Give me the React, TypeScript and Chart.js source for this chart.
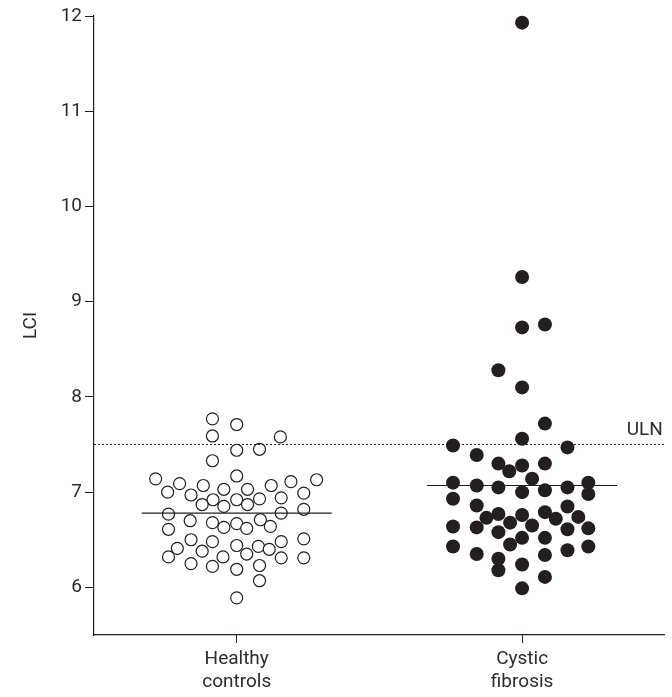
import React, { useEffect, useRef } from "react";
import { Chart, registerables } from "chart.js";
Chart.register(...registerables);

const categories = [["Healthy", "controls"], ["Cystic", "fibrosis"]];
const yTicks = [6, 7, 8, 9, 10, 11, 12];

const healthyLCI = [
  7.77, 7.71, 7.59, 7.58, 7.44, 7.45, 7.33, 7.14, 7.09, 7.07, 7.17, 7.11, 7.13, 7.0, 6.97, 7.03, 7.03, 7.07, 6.99,
  6.92, 6.92, 6.93, 6.94, 6.87, 6.85, 6.87, 6.82, 6.77, 6.78, 6.7, 6.68, 6.67, 6.63, 6.62, 6.71, 6.64, 6.61, 6.5,
  6.48, 6.44, 6.43, 6.48, 6.51, 6.41, 6.38, 6.35, 6.4, 6.32, 6.32, 6.31, 6.31, 6.25, 6.22, 6.19, 6.23, 6.07, 5.89,
];
const healthyJitter = [
  -0.085, 0, -0.085, 0.153, 0, 0.08, -0.085, -0.284, -0.2, -0.117, 0, 0.19, 0.28, -0.242, -0.16, -0.045, 0.038, 0.121,
  0.235, -0.083, 0, 0.08, 0.156, -0.121, -0.045, 0.038, 0.235, -0.239, 0.156, -0.163, -0.085, 0, -0.045, 0.035, 0.083,
  0.118, -0.239, -0.16, -0.085, 0, 0.076, 0.156, 0.235, -0.208, -0.121, 0.035, 0.114, -0.239, -0.048, 0.156, 0.235,
  -0.16, -0.085, 0, 0.08, 0.08, 0,
];

const cfLCI = [
  11.93, 9.26, 8.73, 8.76, 8.28, 8.1, 7.72, 7.56, 7.49, 7.47, 7.39, 7.3, 7.22, 7.28, 7.3, 7.14, 7.1, 7.07, 7.05, 7.0,
  7.02, 7.05, 7.1, 6.98, 6.93, 6.86, 6.85, 6.77, 6.73, 6.76, 6.79, 6.68, 6.72, 6.74, 6.64, 6.63, 6.58, 6.65, 6.61, 6.62,
  6.52, 6.52, 6.45, 6.43, 6.39, 6.43, 6.35, 6.34, 6.3, 6.18, 6.24, 6.11, 5.99,
];
const cfJitter = [
  0, 0, 0, 0.08, -0.083, 0, 0.08, 0, -0.242, 0.159, -0.159, -0.083, -0.045, 0, 0.08, 0.035, -0.242, -0.159, -0.083, 0,
  0.08, 0.159, 0.232, 0.232, -0.242, -0.159, 0.159, -0.083, -0.125, 0, 0.08, -0.042, 0.118, 0.197, -0.242, -0.159,
  -0.083, 0.035, 0.159, 0.232, 0, 0.08, -0.042, -0.242, 0.159, 0.232, -0.159, 0.08, -0.083, -0.083, 0, 0.08, 0,
];

const medians = [6.78, 7.07];
const medianHalfWidth = 0.333;
const ULN = 7.5;
const ulnLabel = "ULN";

const INK = "#231f20";
const TEXT = "#2e2b2c";
const FONT = "Roboto, 'Liberation Sans', sans-serif";

export default function App() {
  const ref = useRef<HTMLCanvasElement>(null);
  useEffect(() => {
    const ctx = ref.current!;
    const ulnPlugin = {
      id: "ulnLabel",
      afterDatasetsDraw(chart: any) {
        const c = chart.ctx;
        const y = chart.scales.y.getPixelForValue(ULN);
        c.save();
        c.fillStyle = TEXT;
        c.font = `19px ${FONT}`;
        c.textAlign = "right";
        c.textBaseline = "alphabetic";
        c.fillText(ulnLabel, chart.chartArea.right - 2, y - 10);
        c.restore();
      },
    };
    const chart = new Chart(ctx, {
      type: "scatter",
      data: {
        datasets: [
          {
            label: "ULN",
            data: [{ x: -0.5, y: ULN }, { x: 1.5, y: ULN }],
            showLine: true,
            borderColor: INK,
            borderWidth: 1,
            borderDash: [2, 2],
            pointRadius: 0,
          } as any,
          ...medians.map((m, i) => ({
            label: "median" + i,
            data: [{ x: i - medianHalfWidth, y: m }, { x: i + medianHalfWidth, y: m }],
            showLine: true,
            borderColor: INK,
            borderWidth: 1.2,
            pointRadius: 0,
          })),
          {
            label: "Healthy controls",
            data: healthyLCI.map((v, i) => ({ x: 0 + healthyJitter[i], y: v })),
            pointRadius: 6,
            pointBackgroundColor: "#ffffff",
            pointBorderColor: INK,
            pointBorderWidth: 1.2,
            clip: false,
          } as any,
          {
            label: "Cystic fibrosis",
            data: cfLCI.map((v, i) => ({ x: 1 + cfJitter[i], y: v })),
            pointRadius: 7,
            pointBackgroundColor: INK,
            pointBorderColor: INK,
            pointBorderWidth: 0,
            clip: false,
          } as any,
        ],
      },
      options: {
        responsive: false,
        animation: false,
        layout: { padding: { top: 16, right: 2, left: 0, bottom: 0 } },
        plugins: { legend: { display: false }, tooltip: { enabled: false } },
        scales: {
          x: {
            type: "linear",
            min: -0.5,
            max: 1.5,
            afterBuildTicks: (s: any) => {
              s.ticks = [{ value: 0 }, { value: 1 }];
            },
            afterFit: (s: any) => {
              s.height = 62;
            },
            ticks: {
              callback: (v: any) => categories[Math.round(Number(v))] as any,
              color: TEXT,
              font: { family: FONT, size: 19, lineHeight: 1.2 },
              padding: 5,
              maxRotation: 0,
              autoSkip: false,
            },
            grid: { drawOnChartArea: false, drawTicks: true, tickLength: 8, color: INK, lineWidth: 1 },
            border: { display: true, color: INK, width: 1.2 },
          },
          y: {
            type: "linear",
            min: 5.5,
            max: 12,
            afterBuildTicks: (s: any) => {
              s.ticks = yTicks.map((v) => ({ value: v }));
            },
            afterFit: (s: any) => {
              s.width = 94;
            },
            ticks: {
              color: TEXT,
              font: { family: FONT, size: 19 },
              padding: 3,
            },
            title: {
              display: true,
              text: "LCI",
              color: TEXT,
              font: { family: FONT, size: 19 },
              padding: { top: 20, bottom: 0 },
            },
            grid: { drawOnChartArea: false, drawTicks: true, tickLength: 9, color: INK, lineWidth: 1 },
            border: { display: true, color: INK, width: 1.2 },
          },
        },
      },
      plugins: [ulnPlugin],
    } as any);
    return () => chart.destroy();
  }, []);
  return (
    <div style={{ position: "absolute", left: 0, top: 0, width: 672, height: 697, background: "#fff" }}>
      <canvas ref={ref} width={672} height={697} style={{ display: "block" }} />
    </div>
  );
}
